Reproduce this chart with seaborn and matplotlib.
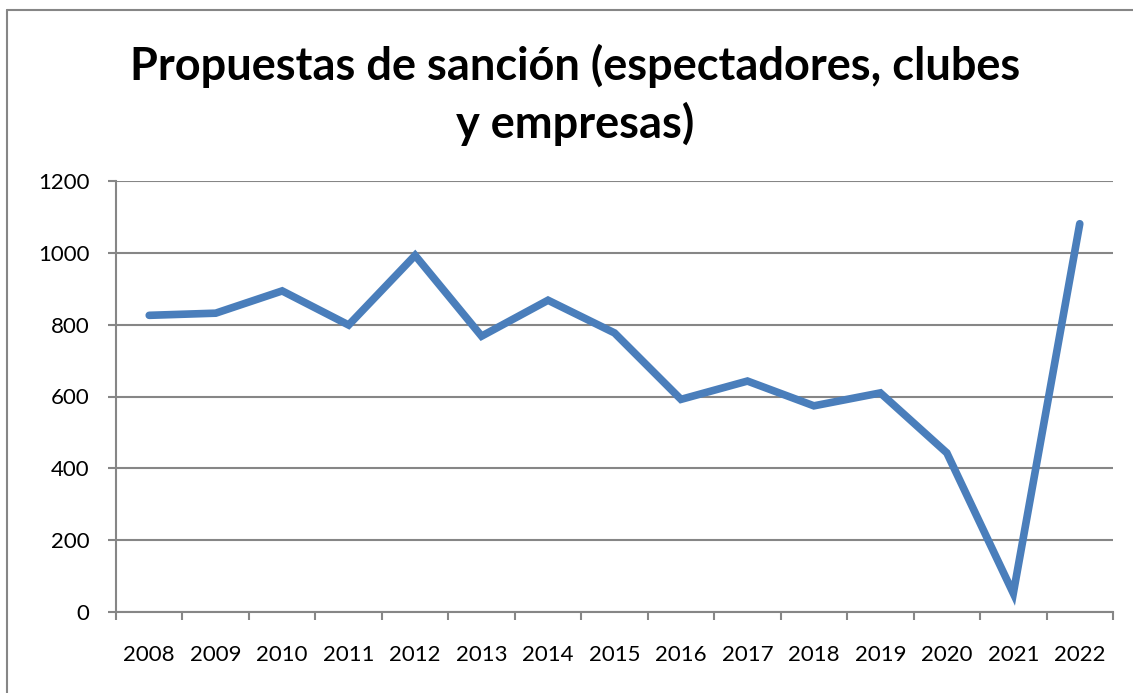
import matplotlib
matplotlib.use("Agg")
import matplotlib.pyplot as plt
from matplotlib.lines import Line2D
from matplotlib.ticker import FixedLocator
import seaborn as sns
import pandas as pd
import numpy as np

years = ['2008', '2009', '2010', '2011', '2012', '2013', '2014', '2015',
         '2016', '2017', '2018', '2019', '2020', '2021', '2022']
propuestas = [826, 832, 894, 799, 993, 768, 868, 777,
              592, 643, 574, 610, 443, 52, 1081]
yticks = [0, 200, 400, 600, 800, 1000, 1200]

df = pd.DataFrame({'pos': np.arange(len(years)), 'valor': propuestas})

sns.set_style('white')
plt.rcParams['font.family'] = ['Lato', 'DejaVu Sans']
plt.rcParams['text.color'] = 'black'

fig = plt.figure(figsize=(11.33, 6.93), dpi=100)
ax = fig.add_axes([116/1133, 1 - 612/693, (1113-116)/1133, (612-181)/693])

sns.lineplot(data=df, x='pos', y='valor', ax=ax, color='#4A7EBB',
             linewidth=5.5, solid_capstyle='round', solid_joinstyle='miter')

grey = '#868686'
ax.set_xlim(-0.5, len(years) - 0.5)
ax.set_ylim(0, 1200)
ax.set_yticks(yticks)
ax.set_xticks(df.pos)
ax.set_xticklabels(years)
ax.xaxis.set_minor_locator(FixedLocator(np.arange(len(years) + 1) - 0.5))
ax.yaxis.grid(True, color=grey, linewidth=1.5)
ax.set_axisbelow(True)
ax.set_xlabel('')
ax.set_ylabel('')

for s in ['top', 'right']:
    ax.spines[s].set_visible(False)
for s in ['left', 'bottom']:
    ax.spines[s].set_color(grey)
    ax.spines[s].set_linewidth(1.5)

ax.tick_params(axis='y', which='major', direction='out', length=6, width=1.5,
               color=grey, labelsize=16, pad=13, left=True, labelcolor='black')
ax.tick_params(axis='x', which='major', length=0, labelsize=16, pad=24,
               labelcolor='black')
ax.tick_params(axis='x', which='minor', direction='out', length=6, width=1.5,
               color=grey, bottom=True)

fig.text(575/1133, 1 - 95/693, 'Propuestas de sanción (espectadores, clubes\ny empresas)',
         ha='center', va='center', fontsize=32.5, fontweight='bold',
         linespacing=1.4, color='black')

# chart border
fig.add_artist(Line2D([7/1133, 7/1133], [0, 1 - 10/693], color=grey, linewidth=1.5))
fig.add_artist(Line2D([7/1133, 1], [1 - 10/693, 1 - 10/693], color=grey, linewidth=1.5))

fig.savefig('out.png', dpi=100)
